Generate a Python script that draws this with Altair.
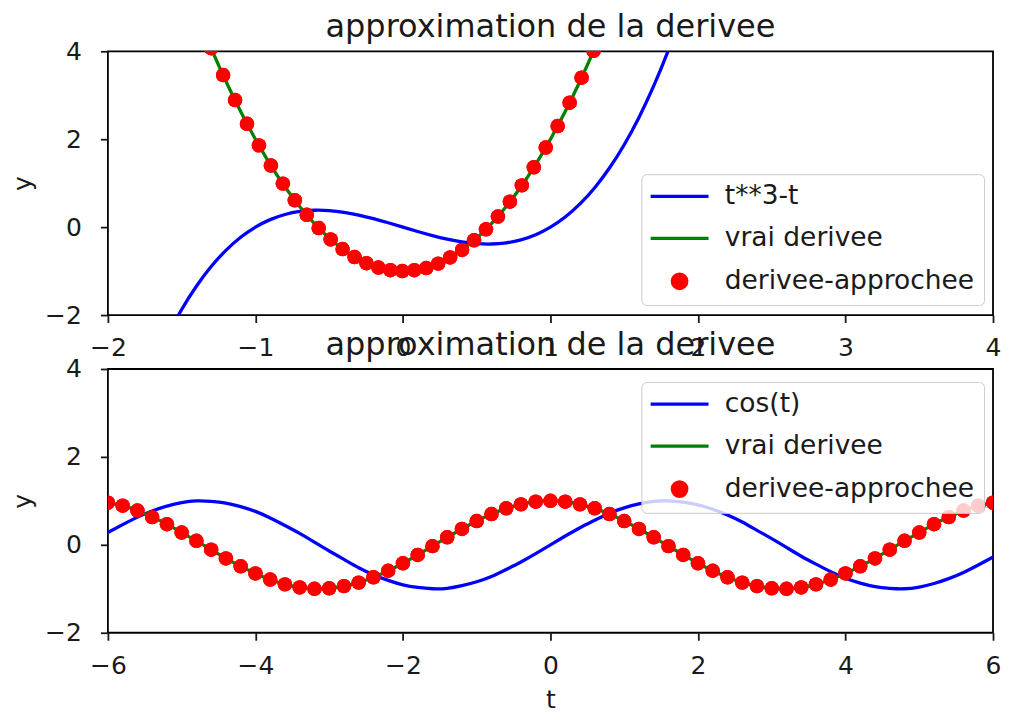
import altair as alt
import pandas as pd

# ---------------- data ----------------
TOP_CURVE_LABEL = "t**3-t"
BOT_CURVE_LABEL = "cos(t)"
TRUE_LABEL = "vrai derivee"
APPROX_LABEL = "derivee-approchee"
TITLE = "approximation de la derivee"

# top panel : blue curve
top_curve_t = [-1.6, -1.5, -1.4, -1.3, -1.2, -1.1, -1.0, -0.9, -0.8, -0.7, -0.6, -0.5, -0.4,
               -0.3, -0.2, -0.1, 0.0, 0.1, 0.2, 0.3, 0.4, 0.5, 0.6, 0.7, 0.8, 0.9, 1.0, 1.1,
               1.2, 1.3, 1.4, 1.5, 1.6, 1.7, 1.8, 1.9]
top_curve_y = [-2.50, -1.875, -1.344, -0.897, -0.528, -0.231, 0.0, 0.171, 0.288, 0.357, 0.384,
               0.375, 0.336, 0.273, 0.192, 0.099, 0.0, -0.099, -0.192, -0.273, -0.336, -0.375,
               -0.384, -0.357, -0.288, -0.171, 0.0, 0.231, 0.528, 0.897, 1.344, 1.875, 2.496,
               3.213, 4.032, 4.959]
# top panel : green line
top_true_t = [-1.4, -1.3, -1.2, -1.1, -1.0, -0.9, -0.8, -0.7, -0.6, -0.5, -0.4, -0.3, -0.2, -0.1,
              0.0, 0.1, 0.2, 0.3, 0.4, 0.5, 0.6, 0.7, 0.8, 0.9, 1.0, 1.1, 1.2, 1.3, 1.4]
top_true_y = [4.88, 4.07, 3.32, 2.63, 2.00, 1.43, 0.92, 0.47, 0.08, -0.25, -0.52, -0.73, -0.88,
              -0.97, -1.00, -0.97, -0.88, -0.73, -0.52, -0.25, 0.08, 0.47, 0.92, 1.43, 2.00, 2.63,
              3.32, 4.07, 4.88]
# top panel : red dots
top_approx_t = [-1.300, -1.219, -1.138, -1.057, -0.976, -0.895, -0.814, -0.733, -0.652, -0.571,
                -0.490, -0.409, -0.328, -0.247, -0.166, -0.085, -0.004, 0.077, 0.158, 0.239,
                0.320, 0.401, 0.482, 0.563, 0.644, 0.725, 0.806, 0.887, 0.968, 1.049, 1.130,
                1.211, 1.292]
top_approx_y = [4.07, 3.46, 2.89, 2.35, 1.86, 1.40, 0.99, 0.61, 0.28, -0.02, -0.28, -0.50, -0.68,
                -0.82, -0.92, -0.98, -1.00, -0.98, -0.93, -0.83, -0.69, -0.52, -0.30, -0.05, 0.24,
                0.58, 0.95, 1.36, 1.81, 2.30, 2.83, 3.40, 4.01]

# bottom panel
bot_t = [-6.0, -5.8, -5.6, -5.4, -5.2, -5.0, -4.8, -4.6, -4.4, -4.2, -4.0, -3.8, -3.6, -3.4, -3.2,
         -3.0, -2.8, -2.6, -2.4, -2.2, -2.0, -1.8, -1.6, -1.4, -1.2, -1.0, -0.8, -0.6, -0.4, -0.2,
         0.0, 0.2, 0.4, 0.6, 0.8, 1.0, 1.2, 1.4, 1.6, 1.8, 2.0, 2.2, 2.4, 2.6, 2.8, 3.0, 3.2, 3.4,
         3.6, 3.8, 4.0, 4.2, 4.4, 4.6, 4.8, 5.0, 5.2, 5.4, 5.6, 5.8, 6.0]
bot_curve_y = [0.28, 0.46, 0.63, 0.77, 0.88, 0.96, 1.00, 0.99, 0.95, 0.87, 0.76, 0.61, 0.44, 0.26,
               0.06, -0.14, -0.33, -0.52, -0.68, -0.81, -0.91, -0.97, -1.00, -0.99, -0.93, -0.84,
               -0.72, -0.56, -0.39, -0.20, 0.00, 0.20, 0.39, 0.56, 0.72, 0.84, 0.93, 0.99, 1.00,
               0.97, 0.91, 0.81, 0.68, 0.52, 0.33, 0.14, -0.06, -0.26, -0.44, -0.61, -0.76, -0.87,
               -0.95, -0.99, -1.00, -0.96, -0.88, -0.77, -0.63, -0.46, -0.28]
bot_true_y = [0.96, 0.89, 0.78, 0.63, 0.47, 0.28, 0.09, -0.11, -0.31, -0.49, -0.65, -0.79, -0.90,
              -0.97, -1.00, -0.99, -0.94, -0.86, -0.74, -0.59, -0.42, -0.23, -0.03, 0.17, 0.36,
              0.54, 0.70, 0.83, 0.92, 0.98, 1.00, 0.98, 0.92, 0.83, 0.70, 0.54, 0.36, 0.17, -0.03,
              -0.23, -0.42, -0.59, -0.74, -0.86, -0.94, -0.99, -1.00, -0.97, -0.90, -0.79, -0.65,
              -0.49, -0.31, -0.11, 0.09, 0.28, 0.47, 0.63, 0.78, 0.89, 0.96]
bot_approx_y = [0.96, 0.89, 0.78, 0.63, 0.47, 0.28, 0.09, -0.11, -0.31, -0.49, -0.65, -0.79, -0.90,
                -0.97, -1.00, -0.99, -0.94, -0.86, -0.74, -0.59, -0.42, -0.23, -0.03, 0.17, 0.36,
                0.54, 0.70, 0.83, 0.92, 0.98, 1.00, 0.98, 0.92, 0.83, 0.70, 0.54, 0.36, 0.17, -0.03,
                -0.23, -0.42, -0.59, -0.74, -0.86, -0.94, -0.99, -1.00, -0.97, -0.90, -0.79, -0.65,
                -0.49, -0.31, -0.11, 0.09, 0.28, 0.47, 0.63, 0.78, 0.89, 0.96]

Y_TICKS = [-2, 0, 2, 4]
TOP_X_TICKS = [-2, -1, 0, 1, 2, 3, 4]
BOT_X_TICKS = [-6, -4, -2, 0, 2, 4, 6]
COLORS = ["#0000ff", "#008000", "#ff0000"]

FONT = "DejaVu Sans"
TXT = "#1a1a1a"
MINUS_EXPR = "replace(datum.label, '-', '\u2212')"


def frame(ts, ys, label):
    return pd.DataFrame({"t": ts, "y": ys, "serie": [label] * len(ts)})


def panel(curve, true, approx, curve_label, xdomain, xticks, legend_y, xtitle):
    is_dot = "datum.value === '%s'" % APPROX_LABEL
    legend = alt.Legend(
        title=None, orient="none", legendX=534, legendY=legend_y, padding=9, cornerRadius=5,
        fillColor="rgba(255,255,255,0.8)", strokeColor="#cccccc",
        labelFont=FONT, labelFontSize=26.5, labelColor=TXT, labelOffset=32, labelLimit=500,
        symbolType={"expr": is_dot + " ? 'circle' : 'M-4,0H4'"},
        symbolSize=210, symbolOffset=16, rowPadding=15,
        symbolStrokeWidth=3.3,
    )
    color = alt.Color("serie:N", scale=alt.Scale(domain=[curve_label, TRUE_LABEL, APPROX_LABEL],
                                                range=COLORS), legend=legend)
    x = alt.X("t:Q", scale=alt.Scale(domain=xdomain, nice=False, zero=False),
              axis=alt.Axis(values=xticks, title=xtitle, labelPadding=13, labelFlush=False,
                            labelOverlap=False, titlePadding=9, labelExpr=MINUS_EXPR))
    y = alt.Y("y:Q", scale=alt.Scale(domain=[-2, 4], nice=False, zero=False),
              axis=alt.Axis(values=Y_TICKS, title="y", labelPadding=19, labelOverlap=False,
                            labelExpr=MINUS_EXPR, titleX=-85, titleY=132,
                            titleAlign="center", titleBaseline="middle"))
    dots = alt.Chart(approx).mark_circle(clip=True, size=210, opacity=1).encode(
        x=x, y=y, color=color)
    l1 = alt.Chart(curve).mark_line(clip=True, strokeWidth=3.3, interpolate="natural").encode(
        x=x, y=y, color=color)
    l2 = alt.Chart(true).mark_line(clip=True, strokeWidth=3.3, interpolate="natural").encode(
        x=x, y=y, color=color)
    return alt.layer(dots, l1, l2, dots).properties(
        width=886, height=264,
        title=alt.TitleParams(TITLE, font=FONT, fontSize=32, fontWeight="normal", color=TXT,
                              anchor="middle", offset=-5, frame="group"))


top = panel(frame(top_curve_t, top_curve_y, TOP_CURVE_LABEL),
            frame(top_true_t, top_true_y, TRUE_LABEL),
            frame(top_approx_t, top_approx_y, APPROX_LABEL),
            TOP_CURVE_LABEL, [-2, 4], TOP_X_TICKS, 123, None)
bottom = panel(frame(bot_t, bot_curve_y, BOT_CURVE_LABEL),
               frame(bot_t, bot_true_y, TRUE_LABEL),
               frame(bot_t, bot_approx_y, APPROX_LABEL),
               BOT_CURVE_LABEL, [-6, 6], BOT_X_TICKS, 13, "t")

chart = alt.vconcat(top, bottom, spacing=54, bounds="flush").resolve_scale(
    color="independent"
).properties(
    padding={"left": 2, "top": 2, "right": 0, "bottom": 0},
    background="white",
).configure_view(
    stroke="#000000", strokeWidth=1.8
).configure_axis(
    domain=False, grid=False, labelFont=FONT, labelFontSize=25, labelColor=TXT,
    tickColor=TXT, tickSize=7.5, tickWidth=1.8, titleFont=FONT, titleFontSize=25,
    titleFontWeight="normal", titleColor=TXT
)

chart.save("out.html", embed_options={"renderer": "svg", "actions": False})
